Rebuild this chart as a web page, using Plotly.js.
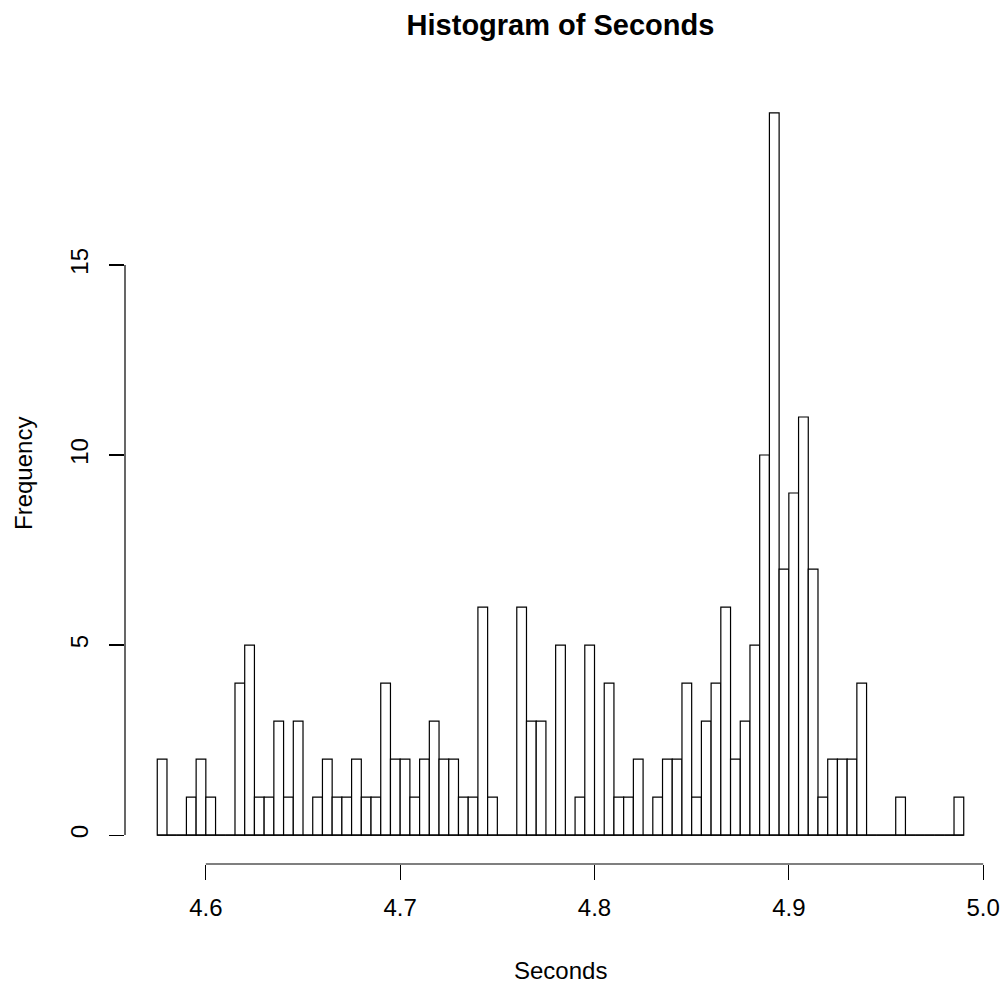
<!DOCTYPE html>
<html>
<head>
<meta charset="utf-8">
<script src="https://cdn.plot.ly/plotly-3.0.1.min.js"></script>
<style>html,body{margin:0;padding:0;background:#fff;}#chart{width:1004px;height:985px;}</style>
</head>
<body>
<div id="chart"></div>
<script>
// Histogram of Seconds: bins of width 0.005 starting at 4.575
var breakStart = 4.575;
var binWidth = 0.005;
var counts = [2,0,0,1,2,1,0,0,4,5,1,1,3,1,3,0,1,2,1,1,2,1,1,4,2,2,1,2,
              3,2,2,1,1,6,1,0,0,6,3,3,0,5,0,1,5,0,4,1,1,2,0,1,2,2,4,1,
              3,4,6,2,3,5,10,19,7,9,11,7,1,2,2,2,4,0,0,0,1,0,0,0,0,0,1];
var xTickVals = [4.6, 4.7, 4.8, 4.9, 5.0];
var xTickText = ["4.6", "4.7", "4.8", "4.9", "5.0"];
var yTickVals = [0, 5, 10, 15];
var yTickText = ["0", "5", "10", "15"];
var titleText = "Histogram of Seconds";
var xLabel = "Seconds";
var yLabel = "Frequency";

var centers = counts.map(function(c, i){ return breakStart + binWidth * (i + 0.5); });
var lastEdge = breakStart + binWidth * counts.length;
var maxCount = Math.max.apply(null, counts);

var xPad = (lastEdge - breakStart) * 0.04;
var yPad = maxCount * 0.04;

var FONT = "Liberation Sans, Arial, Helvetica, sans-serif";
var LW = 1.2;
var W = 1004, H = 985;
var M = {l: 125, r: 8, t: 84, b: 121};
var plotW = W - M.l - M.r, plotH = H - M.t - M.b;

var traces = [
  {
    type: "bar",
    x: centers,
    y: counts,
    width: binWidth,
    marker: {color: "#ffffff", line: {color: "#000000", width: LW}},
    hoverinfo: "x+y",
    showlegend: false
  },
  {
    type: "scatter",
    mode: "lines",
    x: [breakStart, lastEdge],
    y: [0, 0],
    line: {color: "#000000", width: LW},
    hoverinfo: "skip",
    showlegend: false
  }
];

var layout = {
  width: W,
  height: H,
  paper_bgcolor: "#ffffff",
  plot_bgcolor: "#ffffff",
  margin: {l: M.l, r: M.r, t: M.t, b: M.b, pad: 0},
  font: {family: FONT, size: 24, color: "#000000"},
  title: {
    text: "<b>" + titleText + "</b>",
    font: {family: FONT, size: 29, color: "#000000"},
    x: 0.5, xref: "paper",
    y: 1 - 25/H, yref: "container", yanchor: "middle"
  },
  xaxis: {
    range: [breakStart - xPad, lastEdge + xPad],
    tickvals: xTickVals,
    ticktext: xTickText,
    ticks: "outside",
    ticklen: 15,
    tickwidth: LW,
    tickcolor: "#000000",
    ticklabelstandoff: 7,
    showline: false,
    showgrid: false,
    zeroline: false,
    tickfont: {family: FONT, size: 24, color: "#000000"},
    automargin: false,
    fixedrange: true
  },
  yaxis: {
    range: [-yPad, maxCount + yPad],
    tickvals: yTickVals,
    ticktext: yTickText,
    tickangle: -90,
    ticks: "outside",
    ticklen: 15,
    tickwidth: LW,
    tickcolor: "#000000",
    ticklabelstandoff: 11,
    showline: false,
    showgrid: false,
    zeroline: false,
    tickfont: {family: FONT, size: 24, color: "#000000"},
    automargin: false,
    fixedrange: true
  },
  annotations: [
    {text: xLabel, xref: "paper", yref: "paper", x: 0.5, y: -(970 - (H - M.b)) / plotH,
     xanchor: "center", yanchor: "middle", showarrow: false,
     font: {family: FONT, size: 24, color: "#000000"}},
    {text: yLabel, xref: "paper", yref: "paper", x: -(M.l - 23) / plotW, y: 0.5,
     xanchor: "center", yanchor: "middle", textangle: -90, showarrow: false,
     font: {family: FONT, size: 24, color: "#000000"}}
  ],
  shapes: [
    {type: "line", xref: "x", yref: "paper", x0: xTickVals[0], x1: xTickVals[xTickVals.length-1], y0: 0, y1: 0,
     line: {color: "#000000", width: LW}},
    {type: "line", xref: "paper", yref: "y", x0: 0, x1: 0, y0: yTickVals[0], y1: yTickVals[yTickVals.length-1],
     line: {color: "#000000", width: LW}}
  ]
};

Plotly.newPlot("chart", traces, layout, {staticPlot: true, displayModeBar: false});
</script>
</body>
</html>
